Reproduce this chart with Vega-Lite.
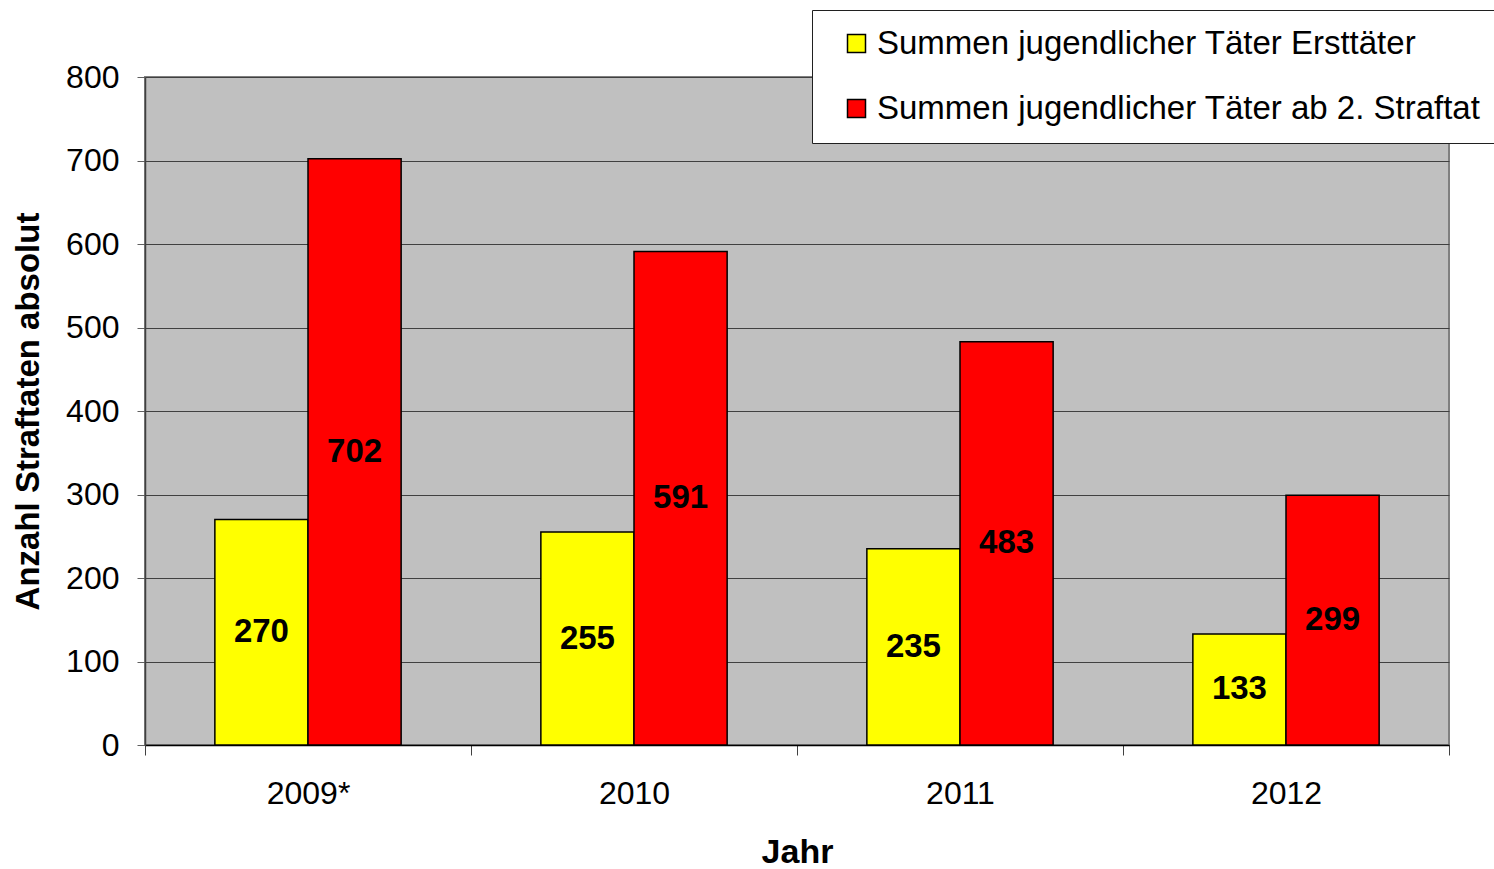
{
  "$schema": "https://vega.github.io/schema/vega-lite/v6.json",
  "width": 1304,
  "height": 668,
  "autosize": {"type": "none"},
  "padding": {"left": 145, "top": 77, "right": 45, "bottom": 124},
  "background": "white",
  "config": {
    "font": "Liberation Sans",
    "view": {"fill": "#C0C0C0", "stroke": "#808080", "strokeWidth": 2}
  },
  "data": {
    "values": [
      {"Jahr": "2009*", "Serie": "Summen jugendlicher Täter Ersttäter", "Wert": 270},
      {"Jahr": "2009*", "Serie": "Summen jugendlicher Täter ab 2. Straftat", "Wert": 702},
      {"Jahr": "2010", "Serie": "Summen jugendlicher Täter Ersttäter", "Wert": 255},
      {"Jahr": "2010", "Serie": "Summen jugendlicher Täter ab 2. Straftat", "Wert": 591},
      {"Jahr": "2011", "Serie": "Summen jugendlicher Täter Ersttäter", "Wert": 235},
      {"Jahr": "2011", "Serie": "Summen jugendlicher Täter ab 2. Straftat", "Wert": 483},
      {"Jahr": "2012", "Serie": "Summen jugendlicher Täter Ersttäter", "Wert": 133},
      {"Jahr": "2012", "Serie": "Summen jugendlicher Täter ab 2. Straftat", "Wert": 299}
    ]
  },
  "encoding": {
    "x": {
      "field": "Jahr",
      "type": "nominal",
      "sort": null,
      "scale": {"paddingInner": 0, "paddingOuter": 0},
      "axis": {
        "title": "Jahr",
        "titleFontSize": 34,
        "titleFontWeight": "bold",
        "titleColor": "black",
        "titlePadding": 26,
        "labelFontSize": 32,
        "labelColor": "black",
        "labelAngle": 0,
        "labelPadding": 23,
        "tickBand": "extent",
        "tickSize": 10,
        "tickColor": "#404040",
        "domainColor": "black",
        "domainWidth": 1.5,
        "grid": false
      }
    },
    "xOffset": {
      "field": "Serie",
      "type": "nominal",
      "sort": ["Summen jugendlicher Täter Ersttäter", "Summen jugendlicher Täter ab 2. Straftat"],
      "scale": {"paddingInner": 0, "paddingOuter": 0.75}
    }
  },
  "layer": [
    {
      "mark": {"type": "bar", "stroke": "black", "strokeWidth": 1.5},
      "encoding": {
        "y": {
          "field": "Wert",
          "type": "quantitative",
          "scale": {"domain": [0, 800], "nice": false},
          "axis": {
            "title": "Anzahl Straftaten absolut",
            "titleFontSize": 33,
            "titleFontWeight": "bold",
            "titleColor": "black",
            "titlePadding": 20,
            "labelFontSize": 32,
            "labelColor": "black",
            "labelPadding": 18,
            "values": [0, 100, 200, 300, 400, 500, 600, 700, 800],
            "tickSize": 8,
            "tickColor": "#606060",
            "domainColor": "#404040",
            "domainWidth": 1.5,
            "grid": true,
            "gridColor": "#404040",
            "gridWidth": 1,
            "gridOpacity": 1
          }
        },
        "color": {
          "field": "Serie",
          "type": "nominal",
          "sort": ["Summen jugendlicher Täter Ersttäter", "Summen jugendlicher Täter ab 2. Straftat"],
          "scale": {"range": ["#FFFF00", "#FF0000"]},
          "legend": {
            "title": null,
            "orient": "none",
            "legendX": 667,
            "legendY": -67,
            "fillColor": "white",
            "strokeColor": "#202020",
            "padding": 17,
            "symbolOffset": 11,
            "symbolType": "square",
            "symbolSize": 324,
            "symbolStrokeColor": "black",
            "symbolStrokeWidth": 1.5,
            "symbolOpacity": 1,
            "labelFontSize": 33,
            "labelColor": "black",
            "labelLimit": 1000,
            "labelOffset": 4,
            "rowPadding": 31
          }
        }
      }
    },
    {
      "mark": {"type": "text", "fontWeight": "bold", "fontSize": 33, "color": "black", "baseline": "middle", "align": "center"},
      "encoding": {
        "y": {
          "field": "Wert",
          "type": "quantitative",
          "scale": {"domain": [0, 1600], "nice": false},
          "axis": null
        },
        "text": {"field": "Wert", "type": "quantitative"}
      }
    }
  ],
  "resolve": {"scale": {"y": "independent"}}
}
